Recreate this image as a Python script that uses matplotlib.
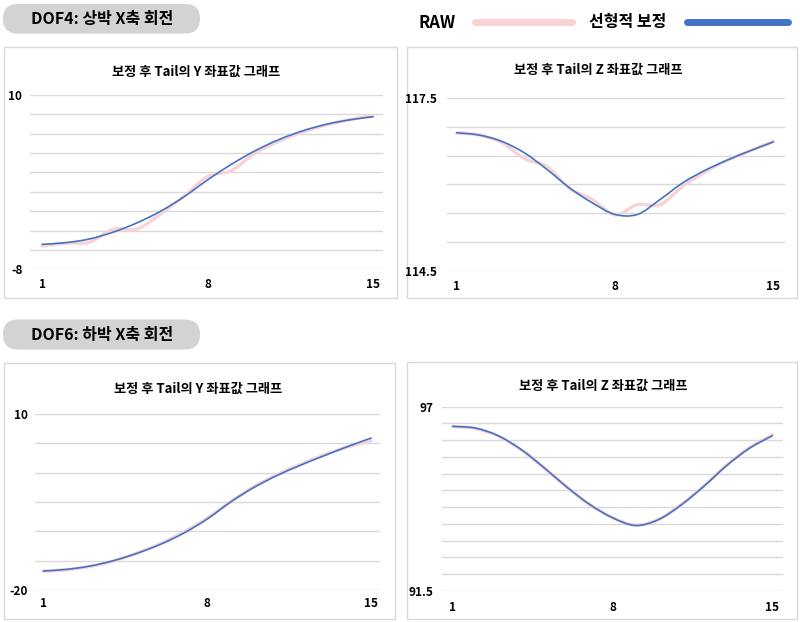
import numpy as np
import matplotlib
matplotlib.use("Agg")
import matplotlib.pyplot as plt
from matplotlib.patches import Rectangle, FancyBboxPatch, PathPatch
from matplotlib.path import Path
from matplotlib.transforms import IdentityTransform
from matplotlib.lines import Line2D

plt.rcParams['font.family'] = ['Noto Sans CJK KR', 'DejaVu Sans']

W, H = 800, 622
RAW_COLOR = "#f9d3d4"
FIT_COLOR = "#4472c4"
GRID_COLOR = "#d9d9d9"

frames = list(range(1, 16))

# DOF4 (upper arm X rotation)
dof4_y_raw = [-5.6, -5.3, -5.2, -3.86, -3.86, -2.3, -0.45, 1.57, 2.19, 3.98, 5.2, 6.15, 6.9, 7.45, 7.85]
dof4_y_fit = [-5.42, -5.25, -4.87, -4.17, -3.22, -2.02, -0.52, 1.23, 2.83, 4.23, 5.38, 6.28, 6.96, 7.43, 7.76]
dof4_z_raw = [116.9, 116.86, 116.73, 116.45, 116.31, 115.93, 115.74, 115.47, 115.65, 115.65, 115.97, 116.22, 116.43, 116.59, 116.75]
dof4_z_fit = [116.9, 116.86, 116.75, 116.55, 116.26, 115.94, 115.68, 115.48, 115.48, 115.74, 116.03, 116.25, 116.43, 116.59, 116.74]

# DOF6 (forearm X rotation)
dof6_y_raw = [-16.8, -16.55, -16.0, -15.05, -13.7, -12.1, -10.1, -7.75, -4.95, -2.4, -0.3, 1.45, 3.05, 4.4, 5.45]
dof6_y_fit = [-16.76, -16.48, -15.91, -15.0, -13.75, -12.22, -10.3, -7.9, -5.0, -2.5, -0.45, 1.3, 2.9, 4.45, 5.9]
dof6_z_raw = [96.41, 96.35, 96.12, 95.71, 95.17, 94.59, 94.07, 93.69, 93.46, 93.63, 94.07, 94.63, 95.25, 95.77, 96.16]
dof6_z_fit = [96.41, 96.36, 96.13, 95.72, 95.18, 94.6, 94.08, 93.68, 93.45, 93.62, 94.06, 94.62, 95.24, 95.76, 96.13]

headers = ["DOF4: 상박 X축 회전", "DOF6: 하박 X축 회전"]
legend_labels = ["RAW", "선형적 보정"]
title_y = "보정 후 Tail의 Y 좌표값 그래프"
title_z = "보정 후 Tail의 Z 좌표값 그래프"

fig = plt.figure(figsize=(W / 100, H / 100), dpi=100)
ident = IdentityTransform()


def fx(x):
    return x / W


def fy(y):
    return 1 - y / H


def smooth_path(xs, ys):
    # spreadsheet-style smoothed line: bezier segments through every data point
    p = np.column_stack([xs, ys]).astype(float)
    n = len(p)
    verts = [p[0]]
    codes = [Path.MOVETO]
    for i in range(n - 1):
        p0 = p[max(i - 1, 0)]
        p3 = p[min(i + 2, n - 1)]
        c1 = p[i] + (p[i + 1] - p0) / 6
        c2 = p[i + 1] - (p3 - p[i]) / 6
        verts += [c1, c2, p[i + 1]]
        codes += [Path.CURVE4] * 3
    return Path(verts, codes)


def panel(box, axpos, title, title_xy, raw, fit, ymin, ymax, step, xlim, ypad, xpad):
    x0, y0, x1, y1 = box
    fig.add_artist(Rectangle((fx(x0), fy(y1)), fx(x1 - x0), (y1 - y0) / H,
                             transform=fig.transFigure, facecolor="white",
                             edgecolor="#d9d9d9", lw=1.0, zorder=0))
    l, t, r, b = axpos
    ax = fig.add_axes([fx(l), fy(b), fx(r - l), (b - t) / H])
    ax.set_facecolor("none")
    ax.add_patch(PathPatch(smooth_path(frames, raw), fill=False, edgecolor=RAW_COLOR,
                           lw=2.4, capstyle="round", joinstyle="round", zorder=2))
    ax.add_patch(PathPatch(smooth_path(frames, fit), fill=False, edgecolor=FIT_COLOR,
                           lw=1.2, capstyle="round", joinstyle="round", zorder=3))
    ax.set_xlim(*xlim)
    ax.set_ylim(ymin, ymax)
    n = int(round((ymax - ymin) / step))
    ticks = [ymin + i * step for i in range(n + 1)]
    ax.set_yticks(ticks)
    labels = [""] * len(ticks)
    labels[0] = f"{ymin:g}"
    labels[-1] = f"{ymax:g}"
    ax.set_yticklabels(labels, fontsize=8.5, fontweight="bold")
    ax.set_xticks([1, 8, 15])
    ax.set_xticklabels(["1", "8", "15"], fontsize=8.5, fontweight="bold")
    ax.tick_params(axis="y", length=0, pad=ypad)
    ax.tick_params(axis="x", length=0, pad=xpad)
    ax.grid(axis="y", color=GRID_COLOR, lw=1.0)
    ax.set_axisbelow(True)
    for s in ax.spines.values():
        s.set_visible(False)
    fig.text(fx(title_xy[0]), fy(title_xy[1]), title, ha="center", va="center",
             fontsize=9.5, fontweight="bold")
    return ax


panel((4, 47.5, 396.7, 297.7), (30, 95, 383, 269.3), title_y, (196, 72),
      dof4_y_raw, dof4_y_fit, -8, 10, 2, (0.49, 15.42), 5.5, 6)
panel((406.7, 46.7, 796.7, 297.7), (446.7, 98.3, 785, 270.7), title_z, (598, 70),
      dof4_z_raw, dof4_z_fit, 114.5, 117.5, 0.5, (0.56, 15.52), 7, 7)
panel((4, 362.7, 395, 619.3), (35, 414, 380, 590), title_y, (198, 389),
      dof6_y_raw, dof6_y_fit, -20, 10, 5, (0.645, 15.38), 5, 5)
panel((406.7, 361.7, 796.7, 619.3), (441.7, 406.7, 783.3, 590.7), title_z, (603, 386),
      dof6_z_raw, dof6_z_fit, 91.5, 97, 0.5, (0.52, 15.48), 6, 7.5)

# section headers (grey pills)
for (top, bottom), text in zip([(4, 33.5), (319.5, 349.5)], headers):
    hgt = bottom - top
    fig.add_artist(FancyBboxPatch((3, H - bottom), 197, hgt,
                                  boxstyle=f"round,pad=0,rounding_size={hgt / 2}",
                                  transform=ident, facecolor="#d3d3d3",
                                  edgecolor="none"))
    fig.text(fx(102), fy((top + bottom) / 2 + 0.5), text, ha="center", va="center",
             fontsize=11.5, fontweight="bold")

# legend
fig.text(fx(437.5), fy(22.5), legend_labels[0], ha="center", va="center",
         fontsize=12, fontweight="bold")
fig.add_artist(Line2D([fx(475), fx(572)], [fy(21.7), fy(21.7)], color=RAW_COLOR,
                      lw=5, solid_capstyle="round", transform=fig.transFigure))
fig.text(fx(628), fy(22.5), legend_labels[1], ha="center", va="center",
         fontsize=11.5, fontweight="bold")
fig.add_artist(Line2D([fx(687), fx(788)], [fy(21.7), fy(21.7)], color=FIT_COLOR,
                      lw=5, solid_capstyle="round", transform=fig.transFigure))

fig.savefig("out.png", dpi=100, facecolor="white")
